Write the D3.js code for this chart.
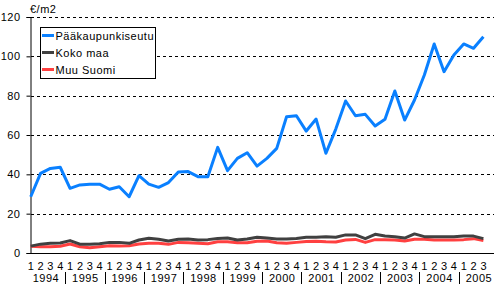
<!DOCTYPE html>
<meta charset="utf-8">
<style>
body { margin: 0; background: #fff; }
text { font-family: Arial, "Liberation Sans", sans-serif; fill: #000; }
.tick-lbl { font-size: 11px; letter-spacing: 0.5px; }
.grid line { stroke: #000; stroke-dasharray: 3,3; shape-rendering: crispEdges; }
.line { fill: none; stroke-width: 3; stroke-linejoin: round; }
</style>
<svg width="496" height="284"></svg>
<script src="https://cdn.jsdelivr.net/npm/d3@7"></script>
<script>

var years = [1994, 1995, 1996, 1997, 1998, 1999, 2000, 2001, 2002, 2003, 2004, 2005];
var quarters = [];
years.forEach(function(y) {
  [1, 2, 3, 4].forEach(function(q) {
    if (y == 2005 && q == 4) return;
    quarters.push(y + "Q" + q);
  });
});

var seriesNames = ["Pääkaupunkiseutu", "Koko maa", "Muu Suomi"];
var seriesColors = ["#0a80ff", "#404040", "#ff4040"];

var paakaupunkiseutu = [28.6, 40.5, 43, 43.6, 32.9, 34.6, 35, 35, 32.4, 33.7,
  28.6, 39.3, 35, 33.4, 35.8, 41.2, 41.4, 38.8, 38.8, 53.7,
  41.9, 48.1, 51, 44.2, 48.1, 53.2, 69.3, 69.8, 62, 68.1,
  50.7, 63, 77.3, 69.8, 70.5, 64.6, 68, 82.4, 67.6, 77.8,
  90.5, 106.3, 92.2, 100.7, 106.3, 104.1, 110];
var kokoMaa = [3.5, 4.5, 4.9, 5.1, 6.3, 4.5, 4.4, 4.7, 5.4, 5.4,
  4.9, 6.6, 7.5, 7, 6.1, 7, 7.1, 6.6, 6.8, 7.4,
  7.6, 6.6, 7.1, 8, 7.6, 7.1, 7.1, 7.4, 8, 8,
  8.2, 8, 9.2, 9.2, 7.3, 9.5, 8.6, 8.3, 7.6, 9.7,
  8.3, 8.3, 8.3, 8.3, 8.6, 8.6, 7.3];
var muuSuomi = [3.4, 3.2, 3.2, 3.4, 4.6, 3.2, 2.7, 3.2, 3.7, 3.5,
  3.7, 4.6, 4.9, 4.9, 4.4, 5.4, 5.2, 4.9, 4.7, 5.7,
  5.7, 5.2, 5.2, 6, 6.1, 5.2, 4.9, 5.4, 5.9, 6,
  5.7, 5.6, 6.6, 6.9, 5.4, 6.8, 6.8, 6.6, 6.1, 7,
  7, 6.6, 6.6, 6.6, 6.8, 7.3, 6.4];

var yTicks = [0, 20, 40, 60, 80, 100, 120];

var svg = d3.select("svg");
var plotLeft = 31, plotRight = 494, plotTop = 17, plotBottom = 253;

var x = d3.scalePoint().domain(quarters).range([30.7, 483.4]);
var step = x.step();
var y = d3.scaleLinear().domain([0, 120]).range([plotBottom, plotTop]);

// grid
svg.append("g").attr("class", "grid")
  .selectAll("line")
  .data(yTicks.filter(function(d) { return d > 0; }))
  .enter().append("line")
    .attr("x1", plotLeft).attr("x2", plotRight)
    .attr("y1", function(d) { return Math.round(y(d)) + 0.5; })
    .attr("y2", function(d) { return Math.round(y(d)) + 0.5; });

// y axis
var yAxis = svg.append("g")
  .attr("transform", "translate(" + (plotLeft - 0.5) + ",0)")
  .call(d3.axisLeft(y).tickValues(yTicks).tickSize(4).tickPadding(6));
yAxis.attr("font-family", null).attr("font-size", null);
yAxis.select(".domain").attr("stroke", "#000");
yAxis.selectAll("text").attr("class", "tick-lbl");
yAxis.selectAll("line").attr("stroke", "#000");

// x axis line
svg.append("line")
  .attr("x1", plotLeft - 0.5).attr("x2", plotRight)
  .attr("y1", plotBottom + 0.5).attr("y2", plotBottom + 0.5)
  .attr("stroke", "#000");

// quarter labels
svg.append("g").selectAll("text")
  .data(quarters)
  .enter().append("text")
    .attr("class", "tick-lbl")
    .attr("x", function(d) { return x(d) + 0.3; })
    .attr("y", 270)
    .attr("text-anchor", "middle")
    .text(function(d) { return d.slice(5); });

// year labels
svg.append("g").selectAll("text")
  .data(years)
  .enter().append("text")
    .attr("class", "tick-lbl")
    .attr("x", function(d) { return x(d + "Q1") + 1.5 * step + 0.5; })
    .attr("y", 281.5)
    .attr("text-anchor", "middle")
    .text(function(d) { return d; });

// year separators
svg.append("g").selectAll("line")
  .data(years.slice(1))
  .enter().append("line")
    .attr("x1", function(d) { return Math.round(x(d + "Q1") - step / 2) + 0.5; })
    .attr("x2", function(d) { return Math.round(x(d + "Q1") - step / 2) + 0.5; })
    .attr("y1", 272).attr("y2", 284)
    .attr("stroke", "#000");

svg.append("text")
  .attr("class", "tick-lbl")
  .attr("x", 30).attr("y", 12.5)
  .text("€/m2");

// lines
var allSeries = [paakaupunkiseutu, kokoMaa, muuSuomi];
var line = d3.line()
  .x(function(d, i) { return x(quarters[i]); })
  .y(function(d) { return y(d); });

svg.append("g").selectAll("path")
  .data(allSeries.slice().reverse())
  .enter().append("path")
    .attr("class", "line")
    .attr("stroke", function(d, i) { return seriesColors[2 - i]; })
    .attr("d", line);

// legend
var legend = svg.append("g");
legend.append("rect")
  .attr("x", 40.5).attr("y", 27.5)
  .attr("width", 115).attr("height", 51)
  .attr("fill", "#fff").attr("stroke", "#000");

var rows = legend.selectAll(".row")
  .data(seriesNames)
  .enter().append("g")
    .attr("transform", function(d, i) { return "translate(0," + (35.5 + i * 17) + ")"; });
rows.append("line")
  .attr("x1", 42).attr("x2", 54)
  .attr("stroke-width", 3)
  .attr("stroke", function(d, i) { return seriesColors[i]; });
rows.append("text")
  .attr("class", "tick-lbl")
  .attr("x", 55.5).attr("y", 4)
  .text(function(d) { return d; });

</script>
